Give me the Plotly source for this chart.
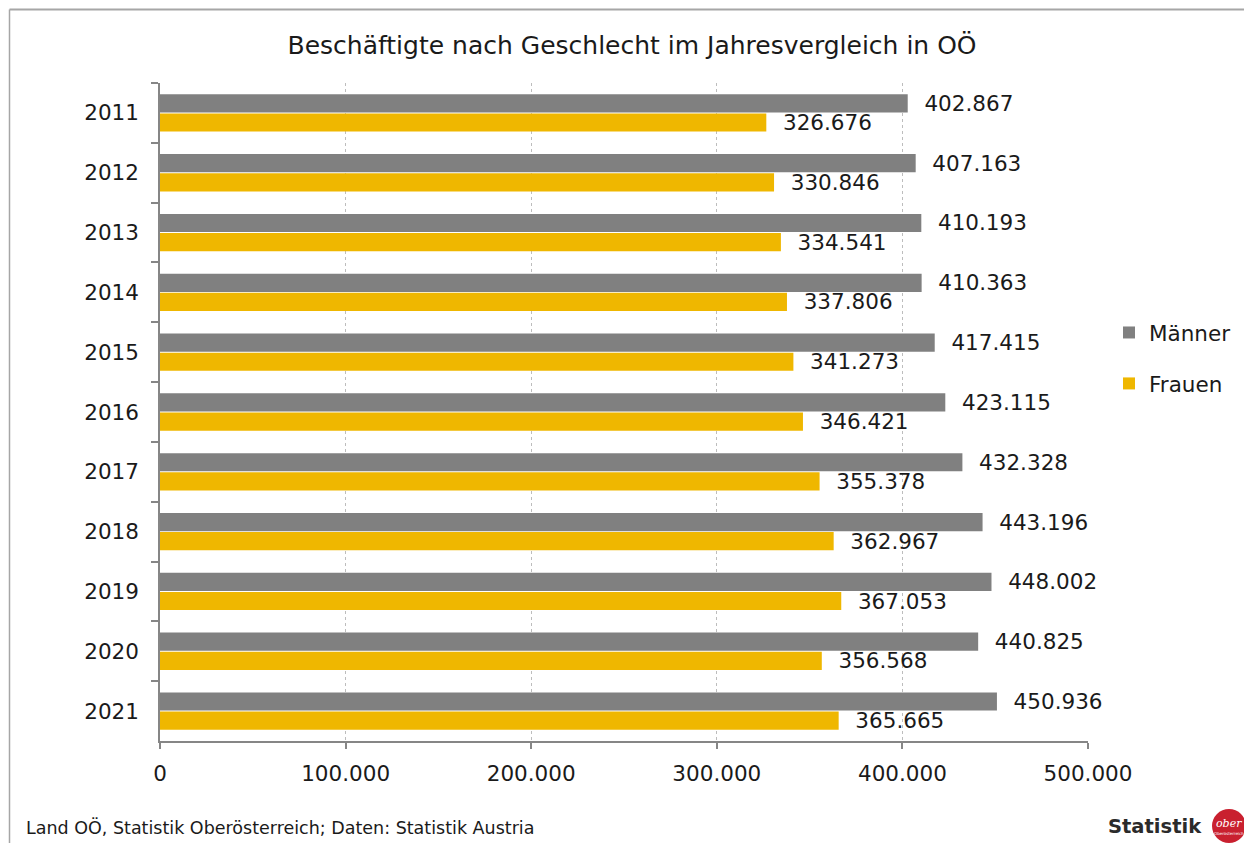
import plotly.graph_objects as go

years = ["2011", "2012", "2013", "2014", "2015", "2016", "2017", "2018", "2019", "2020", "2021"]
maenner = [402867, 407163, 410193, 410363, 417415, 423115, 432328, 443196, 448002, 440825, 450936]
frauen = [326676, 330846, 334541, 337806, 341273, 346421, 355378, 362967, 367053, 356568, 365665]
x_ticks = [0, 100000, 200000, 300000, 400000, 500000]

W, H = 1244, 843
L, R, T, B = 160, 1088, 83, 741
FONT = "DejaVu Sans"
FS = 21.5


def px(x):
    return (x - L) / (R - L)


def py(y):
    return (B - y) / (B - T)


pad = "\u00a0\u00a0"

fig = go.Figure()
fig.add_trace(go.Bar(
    y=years, x=maenner, orientation="h", name="Männer",
    marker=dict(color="#808080", line=dict(width=0)),
    texttemplate=pad + "%{x:,.0f}", textposition="outside",
    textfont=dict(size=FS, color="#1a1a1a", family=FONT),
    cliponaxis=False, constraintext="none", legendgroup="m",
))
fig.add_trace(go.Bar(
    y=years, x=frauen, orientation="h", name="Frauen",
    marker=dict(color="#EFB700", line=dict(width=0)),
    texttemplate=pad + "%{x:,.0f}", textposition="outside",
    textfont=dict(size=FS, color="#1a1a1a", family=FONT),
    cliponaxis=False, constraintext="none", legendgroup="f",
))

shapes = [
    # frame
    dict(type="line", xref="paper", yref="paper", x0=px(9.5), x1=px(W + 5), y0=py(9.5), y1=py(9.5),
         line=dict(color="#a6a6a6", width=2)),
    dict(type="line", xref="paper", yref="paper", x0=px(9.5), x1=px(9.5), y0=py(9.5), y1=py(H + 5),
         line=dict(color="#a6a6a6", width=1.5)),
    # logo circle
    dict(type="circle", xref="paper", yref="paper", x0=px(1212), x1=px(1246), y0=py(809), y1=py(843),
         fillcolor="#C9202F", line=dict(width=0)),
]

annotations = [
    dict(text="Land OÖ, Statistik Oberösterreich; Daten: Statistik Austria", xref="paper", yref="paper",
         x=px(24), y=py(827), xanchor="left", yanchor="middle", showarrow=False,
         font=dict(size=17.5, color="#1a1a1a", family=FONT)),
    dict(text="<b>Statistik</b>", xref="paper", yref="paper",
         x=px(1204), y=py(826), xanchor="right", yanchor="middle", showarrow=False,
         font=dict(size=19.5, color="#2b2b2b", family="DejaVu Sans")),
    dict(text="<i>ober</i>", xref="paper", yref="paper",
         x=px(1229), y=py(823), xanchor="center", yanchor="middle", showarrow=False,
         font=dict(size=11, color="white", family="DejaVu Serif")),
    dict(text="Oberösterreich", xref="paper", yref="paper",
         x=px(1229), y=py(833), xanchor="center", yanchor="middle", showarrow=False,
         font=dict(size=4, color="white", family=FONT)),
]

fig.update_layout(
    width=W, height=H,
    margin=dict(l=L, r=W - R, t=T, b=H - B, autoexpand=False),
    paper_bgcolor="white", plot_bgcolor="white",
    separators=",.",
    barmode="group", bargap=0.36, bargroupgap=0.05,
    title=dict(text="Beschäftigte nach Geschlecht im Jahresvergleich in OÖ",
               x=632 / W, y=1 - 45 / H, xanchor="center", yanchor="middle",
               font=dict(size=25, color="#1a1a1a", family=FONT)),
    font=dict(family=FONT, size=FS, color="#1a1a1a"),
    showlegend=True,
    legend=dict(x=(1109) / W, xref="container", y=1 - 312 / H, yref="container",
                xanchor="left", yanchor="top", traceorder="grouped",
                font=dict(size=FS, color="#1a1a1a", family=FONT),
                tracegroupgap=20, itemwidth=30, bgcolor="rgba(0,0,0,0)"),
    xaxis=dict(range=[0, 500000], tickvals=x_ticks, tickformat=",.0f",
               showgrid=True, gridcolor="#bdbdbd", griddash="3px,3px", gridwidth=1,
               zeroline=False, showline=True, linecolor="#868686", linewidth=1.5,
               ticks="outside", ticklen=6, tickcolor="#868686", tickwidth=1.5,
               ticklabelstandoff=6,
               tickfont=dict(size=FS, color="#1a1a1a", family=FONT)),
    yaxis=dict(categoryorder="array", categoryarray=years, autorange="reversed",
               showgrid=False, zeroline=False, showline=True, linecolor="#868686", linewidth=1.5,
               ticks="outside", ticklen=7, tickcolor="#868686", tickwidth=1.5,
               tickson="boundaries", ticklabelstandoff=15,
               tickfont=dict(size=FS, color="#1a1a1a", family=FONT)),
    shapes=shapes,
    annotations=annotations,
)

fig.write_html("out.html", config={"displayModeBar": False},
               post_script="document.body.style.margin='0';document.body.style.overflow='hidden';")
